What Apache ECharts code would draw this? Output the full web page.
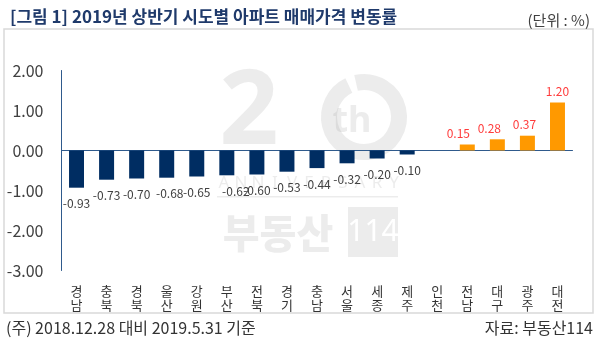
<!DOCTYPE html>
<html>
<head>
<meta charset="utf-8">
<script src="https://cdn.jsdelivr.net/npm/echarts@6/dist/echarts.min.js"></script>
<style>
  html, body { margin: 0; padding: 0; background: #ffffff; }
  #chart { width: 600px; height: 340px; }
</style>
</head>
<body>
<div id="chart"></div>
<script>
// Half-year apartment price change by region (%)
const chartTitle = '[그림 1] 2019년 상반기 시도별 아파트 매매가격 변동률';
const unitNote = '(단위 : %)';
const footNote = '(주) 2018.12.28 대비 2019.5.31 기준';
const sourceNote = '자료: 부동산114';

const regions = ['경남', '충북', '경북', '울산', '강원', '부산', '전북', '경기', '충남',
                 '서울', '세종', '제주', '인천', '전남', '대구', '광주', '대전'];
const changes = [-0.93, -0.73, -0.70, -0.68, -0.65, -0.62, -0.60, -0.53, -0.44,
                 -0.32, -0.20, -0.10, 0.00, 0.15, 0.28, 0.37, 1.20];
const yMin = -3;
const yMax = 2;
const yStep = 1;

// small horizontal nudges for a few value labels (px)
const labelNudge = [0, 0, 0, 3, 0, 9, 0, 0, 0, 0, 0, 0, 0, -9, -8, -3, 0];

const FONT = '"Noto Sans CJK KR", "Noto Sans", sans-serif';
const NAVY = '#002D62';
const ORANGE = '#FF9900';
const AXIS = '#2F5A8C';
const TEXT = '#404040';
const WM = 'rgba(135,135,135,0.16)';

const chart = echarts.init(document.getElementById('chart'), null, { renderer: 'canvas' });

const barData = changes.map((v, i) => {
  const up = v > 0;
  return {
    value: v,
    itemStyle: { color: up ? ORANGE : NAVY },
    label: {
      show: v !== 0,
      position: up ? 'top' : 'bottom',
      distance: up ? 5 : 10,
      offset: [labelNudge[i], 0],
      color: up ? '#FF3B3B' : TEXT,
      fontSize: 12,
      fontFamily: FONT,
      formatter: p => p.value.toFixed(2)
    }
  };
});

// 20th anniversary watermark, drawn over the plot
const wmLetters = 'ANNIVERSARY'.split('');
const wmLetterGroup = wmLetters.map((ch, i) => ({
  type: 'text',
  x: 224 + i * 17,
  y: 183,
  style: { text: ch, fill: WM, font: '17px "Noto Sans", sans-serif', align: 'center', verticalAlign: 'middle' }
}));

const watermark = {
  type: 'group',
  silent: true,
  z: 100,
  children: [
    { type: 'text', x: 249, y: 114,
      style: { text: '2', fill: WM, font: 'bold 104px "Noto Sans", sans-serif', align: 'center', verticalAlign: 'middle' } },
    { type: 'arc', shape: { cx: 364, cy: 117, r: 35, startAngle: -1.80, endAngle: -2.02 + Math.PI * 2, clockwise: true },
      style: { stroke: WM, lineWidth: 16, fill: null } },
    { type: 'text', x: 352, y: 122,
      style: { text: 'th', fill: WM, font: 'bold 36px "Noto Sans", sans-serif', align: 'center', verticalAlign: 'middle' } },
    ...wmLetterGroup,
    { type: 'rect', shape: { x: 217, y: 196, width: 181, height: 1.5 }, style: { fill: WM } },
    { type: 'text', x: 278, y: 233,
      style: { text: '부동산', fill: WM, font: '900 40px "Noto Sans CJK KR", sans-serif', align: 'center', verticalAlign: 'middle' } },
    { type: 'rect', shape: { x: 348, y: 207, width: 50, height: 50 }, style: { fill: WM } },
    { type: 'text', x: 373, y: 232,
      style: { text: '114', fill: '#ffffff', font: '30px "Liberation Sans Narrow", "Noto Sans", sans-serif', align: 'center', verticalAlign: 'middle' } }
  ]
};

chart.setOption({
  animation: false,
  backgroundColor: '#ffffff',
  title: {
    text: chartTitle,
    left: 5,
    top: 2,
    textStyle: { fontFamily: FONT, fontSize: 17, fontWeight: 'bold', color: '#1F3A6B', lineHeight: 19 }
  },
  grid: { left: 61.5, right: 27.5, top: 70.5, bottom: 69.5, containLabel: false },
  xAxis: [
    {
      type: 'category',
      data: regions,
      position: 'bottom',
      axisLine: { onZero: false, show: false },
      axisTick: { show: false },
      axisLabel: {
        margin: 14,
        rotate: 0,
        fontFamily: FONT,
        fontSize: 13,
        lineHeight: 13.5,
        color: '#333333',
        interval: 0,
        formatter: s => s.split('').join('\n')
      }
    },
    {
      type: 'category',
      data: regions,
      position: 'bottom',
      axisLine: { onZero: true, lineStyle: { color: AXIS, width: 1 } },
      axisTick: { show: false },
      axisLabel: { show: false }
    }
  ],
  yAxis: {
    type: 'value',
    min: yMin,
    max: yMax,
    interval: yStep,
    axisLine: { show: true, lineStyle: { color: AXIS, width: 1 } },
    axisTick: { show: false },
    splitLine: { show: false },
    axisLabel: {
      margin: 18,
      fontFamily: FONT,
      fontSize: 16,
      color: TEXT,
      formatter: v => v.toFixed(2)
    }
  },
  series: [{
    type: 'bar',
    xAxisIndex: 0,
    data: barData,
    barWidth: 15
  }],
  graphic: [
    { type: 'rect', z: -10, silent: true,
      shape: { x: 4, y: 29, width: 589, height: 284 },
      style: { fill: null, stroke: '#d9d9d9', lineWidth: 1.5 } },
    { type: 'text', x: 590, y: 20, silent: true,
      style: { text: unitNote, fill: TEXT, font: '15px ' + FONT, align: 'right', verticalAlign: 'middle' } },
    { type: 'text', x: 6, y: 328, silent: true,
      style: { text: footNote, fill: '#333333', font: '16px ' + FONT, align: 'left', verticalAlign: 'middle' } },
    { type: 'text', x: 593, y: 328, silent: true,
      style: { text: sourceNote, fill: '#333333', font: '16px ' + FONT, align: 'right', verticalAlign: 'middle' } },
    watermark
  ]
});
</script>
</body>
</html>
